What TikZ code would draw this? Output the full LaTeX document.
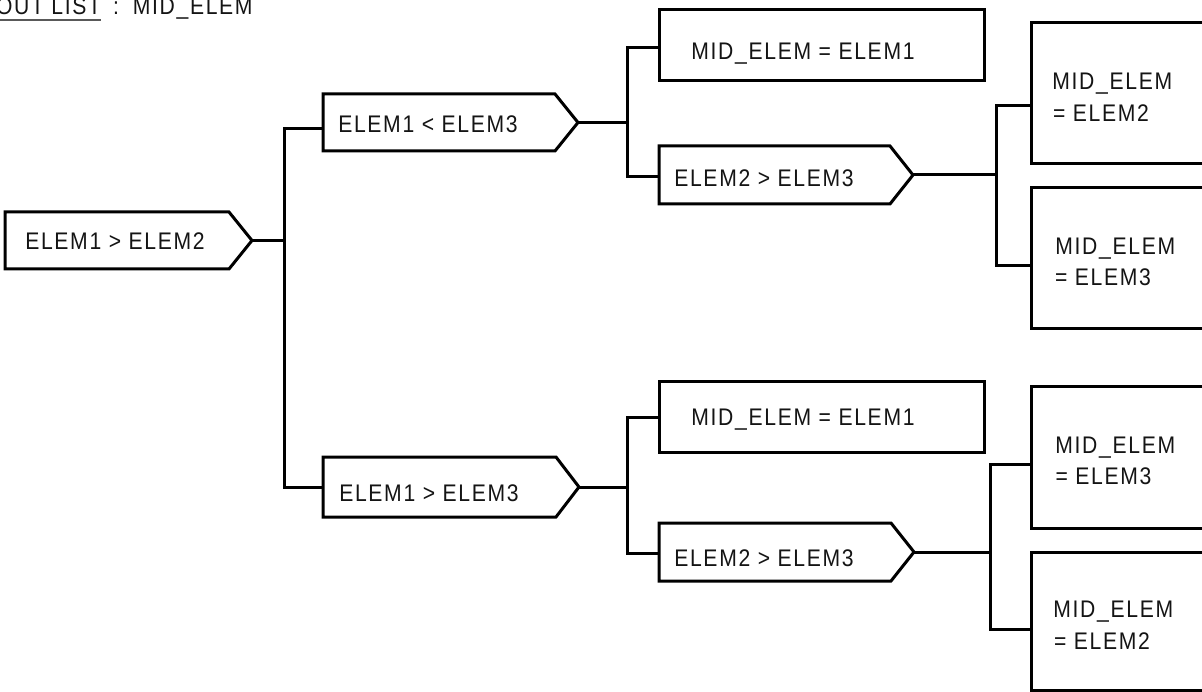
\documentclass[tikz,border=0pt]{standalone}
\usepackage{fontspec}
\setmainfont{Liberation Sans}[LetterSpace=7, FakeStretch=0.88]
\newcommand{\lab}{\fontsize{24}{28}\selectfont}
\begin{document}
\begin{tikzpicture}[x=1pt,y=-1pt,
  ln/.style={line width=3pt, line join=miter, draw=black},
  boxn/.style={shape=rectangle, anchor=north west, inner sep=0pt, outer sep=0pt, draw=none},
  txt/.style={anchor=base west, inner sep=0pt, outer sep=0pt, font=\lab, text=black!92},
  underl/.style={line width=1.4pt, draw=black!65}]
\fill[white] (0,0) rectangle (1202,692);
\useasboundingbox (0,0) rectangle (1202,692);

% title
\node[txt] (t1) at (-4,15) {OUT LIST};
\node[txt] (t2) at (113,15) {:\hspace{14pt}MID\_ELEM};
\draw[underl] ([yshift=-5pt]t1.base west) -- ([yshift=-5pt]t1.base east);

% box nodes (geometry)
\node[boxn, minimum width=247, minimum height=57] (A) at (5,212) {};
\node[boxn, minimum width=255, minimum height=57] (B) at (323,94) {};
\node[boxn, minimum width=256, minimum height=60] (G) at (323,457) {};
\node[boxn, minimum width=325, minimum height=71] (C) at (659,10) {};
\node[boxn, minimum width=254, minimum height=58] (D) at (659,146) {};
\node[boxn, minimum width=325, minimum height=70] (H) at (659,382) {};
\node[boxn, minimum width=255, minimum height=58] (I) at (659,523) {};
\node[boxn, minimum width=171, minimum height=141] (E) at (1031,23) {};
\node[boxn, minimum width=171, minimum height=141] (F) at (1031,188) {};
\node[boxn, minimum width=171, minimum height=141] (J) at (1031,387) {};
\node[boxn, minimum width=171, minimum height=138] (K) at (1031,552) {};

% outlines: decision boxes (pointed)
\foreach \n in {A,B,G,D,I}{
  \draw[ln] (\n.north west) -- ([xshift=-23pt]\n.north east) -- (\n.east)
        -- ([xshift=-23pt]\n.south east) -- (\n.south west) -- cycle;
}
% plain boxes
\draw[ln] (C.north west) rectangle (C.south east);
\draw[ln] (H.north west) rectangle (H.south east);
% boxes cut by the right edge
\foreach \n in {E,F,J,K}{
  \draw[ln] (\n.north east) -- (\n.north west) -- (\n.south west) -- (\n.south east);
}

% texts
\node[txt] (At) at (25.3,250) {ELEM1 > ELEM2};
\node[txt] (Bt) at (338.3,133) {ELEM1 < ELEM3};
\node[txt] (Gt) at (339.3,501) {ELEM1 > ELEM3};
\node[txt] (Ct) at (691.4,60) {MID\_ELEM = ELEM1};
\node[txt] (Dt) at (674.3,187) {ELEM2 > ELEM3};
\node[txt] (Ht) at (691.4,425) {MID\_ELEM = ELEM1};
\node[txt] (It) at (674.3,566) {ELEM2 > ELEM3};
\node[txt] (Et1) at (1052.4,90) {MID\_ELEM};
\node[txt] (Et2) at (1053,122) {= ELEM2};
\node[txt] (Ft1) at (1055.4,255) {MID\_ELEM};
\node[txt] (Ft2) at (1055,286) {= ELEM3};
\node[txt] (Jt1) at (1055.4,453) {MID\_ELEM};
\node[txt] (Jt2) at (1055.5,484) {= ELEM3};
\node[txt] (Kt1) at (1053.4,617) {MID\_ELEM};
\node[txt] (Kt2) at (1054,649) {= ELEM2};

% junction coordinates
\coordinate (j1a) at (284,129);
\coordinate (j1b) at (284,487);
\coordinate (j2a) at (627,48);
\coordinate (j2b) at (627,177);
\coordinate (j3a) at (627,417);
\coordinate (j3b) at (627,553);
\coordinate (j4a) at (996,106);
\coordinate (j4b) at (996,266);
\coordinate (j5a) at (990,464);
\coordinate (j5b) at (990,629);

% connectors
\draw[ln] (A.east) -- (A.east -| j1a);
\draw[ln] (B.west |- j1a) -- (j1a) -- (j1b) -- (G.west |- j1b);

\draw[ln] (B.east) -- (B.east -| j2a);
\draw[ln] (C.west |- j2a) -- (j2a) -- (j2b) -- (D.west |- j2b);

\draw[ln] (G.east) -- (G.east -| j3a);
\draw[ln] (H.west |- j3a) -- (j3a) -- (j3b) -- (I.west |- j3b);

\draw[ln] (D.east) -- (D.east -| j4a);
\draw[ln] (E.west |- j4a) -- (j4a) -- (j4b) -- (F.west |- j4b);

\draw[ln] (I.east) -- (I.east -| j5a);
\draw[ln] (J.west |- j5a) -- (j5a) -- (j5b) -- (K.west |- j5b);
\end{tikzpicture}
\end{document}
